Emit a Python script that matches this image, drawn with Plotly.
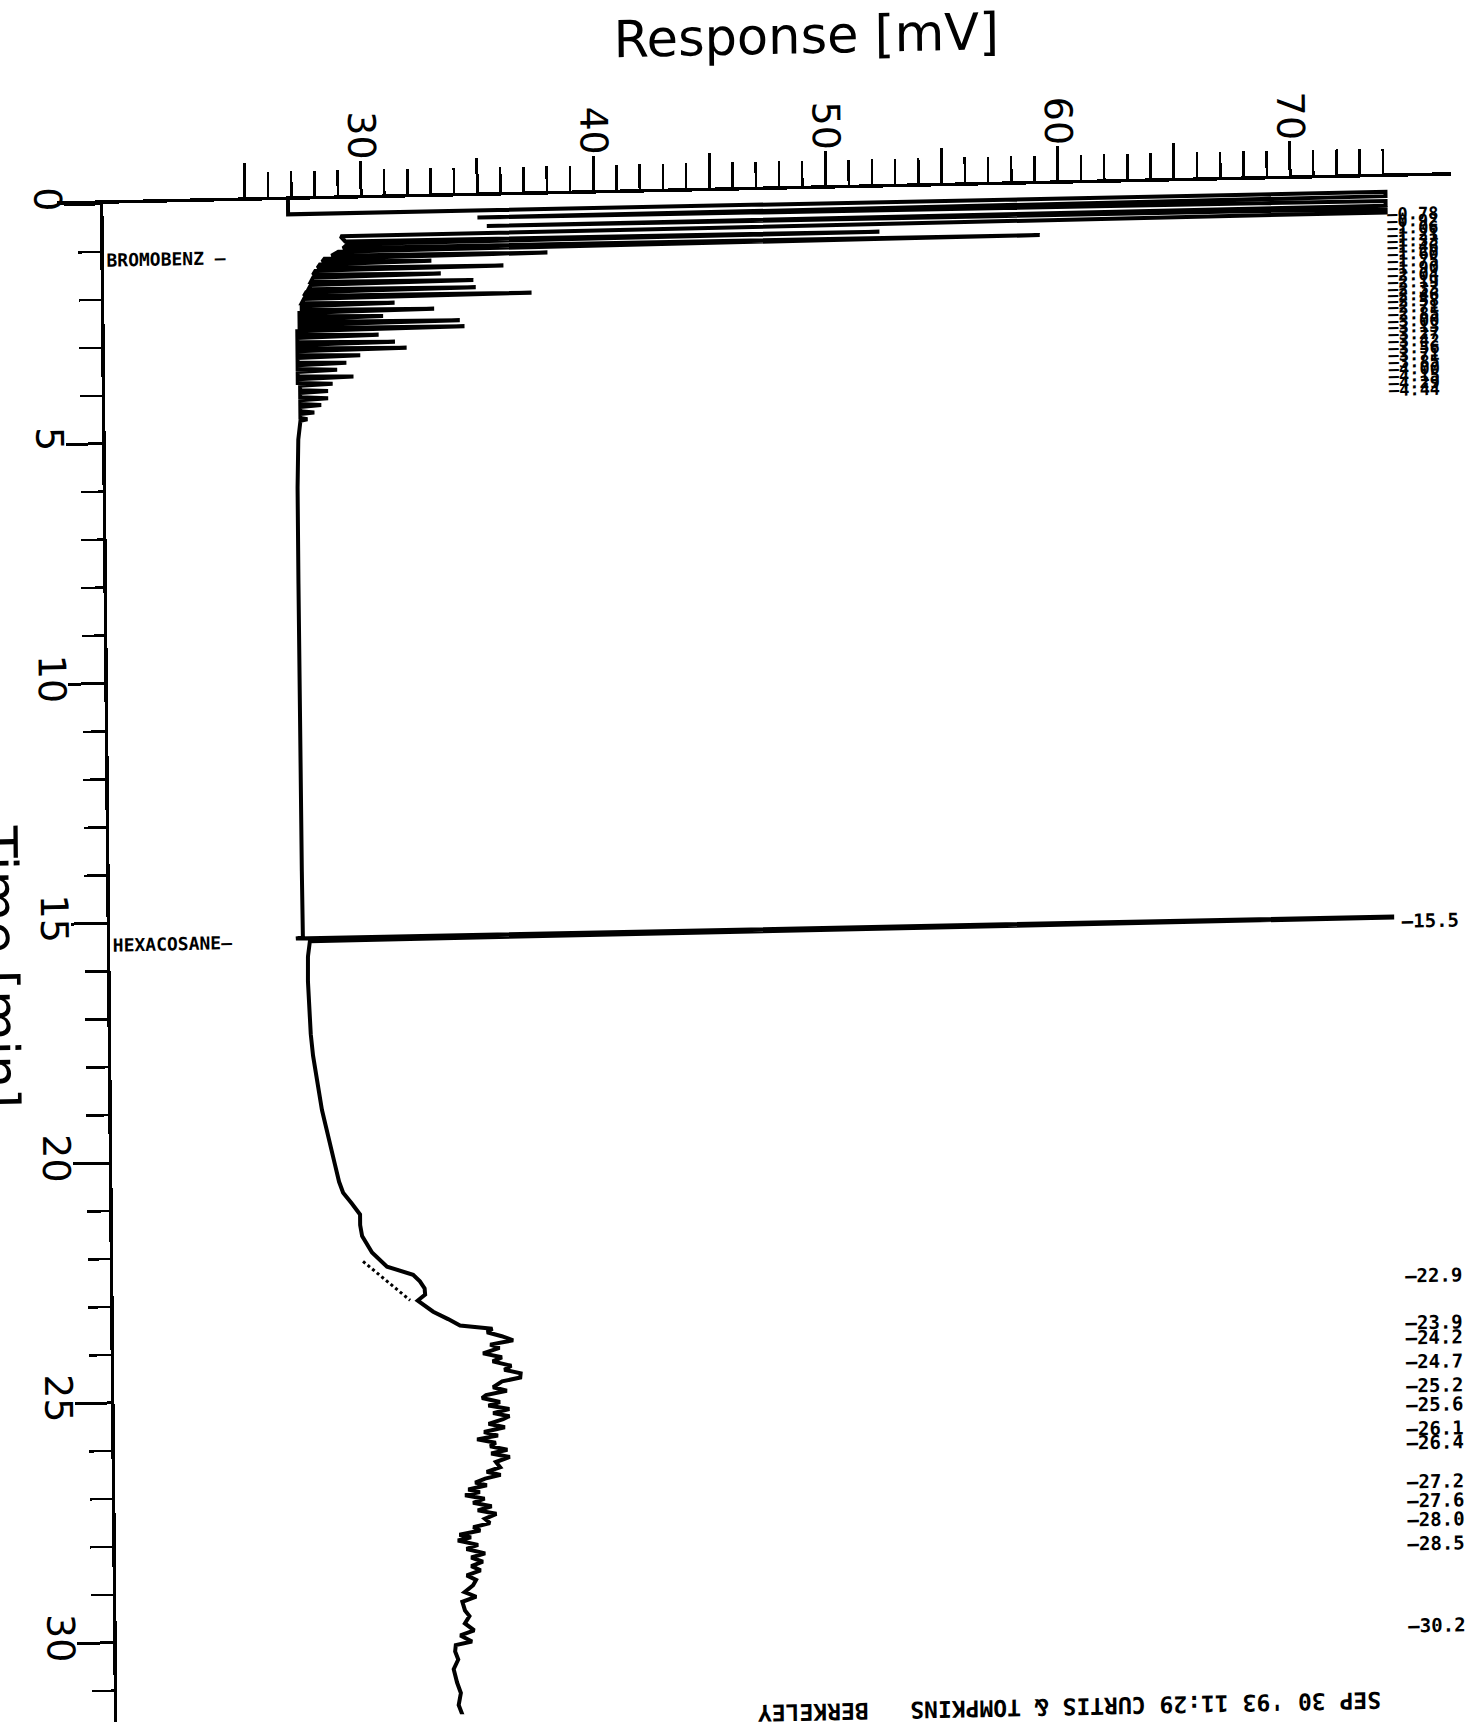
import plotly.graph_objects as go

# ---------------- data ----------------
# time [min] / response [mV] of the recorder trace, in segments
early_time = [0.00, 0.30, 0.31, 0.40, 0.45, 0.50, 0.60, 0.63, 0.66, 0.74, 0.78, 0.89, 0.92, 0.95,
              1.03, 1.06, 1.10, 1.18, 1.21, 1.24, 1.30, 1.33, 1.36, 1.43, 1.46, 1.49,
              1.57, 1.60, 1.63, 1.72, 1.75, 1.78, 1.87, 1.90, 1.93, 2.01, 2.04, 2.07,
              2.16, 2.19, 2.22, 2.30, 2.33, 2.36, 2.43, 2.46, 2.49, 2.55, 2.58, 2.61,
              2.68, 2.71, 2.74, 2.82, 2.85, 2.88, 2.97, 3.00, 3.03, 3.10, 3.13, 3.16,
              3.24, 3.27, 3.30, 3.39, 3.42, 3.45, 3.53, 3.56, 3.59, 3.68, 3.71, 3.74,
              3.82, 3.85, 3.88, 3.97, 4.00, 4.03, 4.12, 4.15, 4.18, 4.26, 4.29, 4.32,
              4.41, 4.44, 4.47, 4.55, 4.58, 4.61]
early_mv = [26.85, 26.85, 74.1, 74.1, 35.0, 74.1, 74.1, 35.4, 74.1, 74.1, 29.1, 29.3, 52.3, 29.4,
            29.2, 59.2, 29.0, 28.7, 38.0, 28.4, 28.3, 33.0, 28.2, 28.1, 36.1, 28.0,
            27.9, 33.4, 27.9, 27.8, 34.8, 27.8, 27.7, 34.9, 27.6, 27.5, 37.3, 27.5,
            27.4, 31.4, 27.4, 27.4, 33.1, 27.3, 27.3, 30.9, 27.3, 27.3, 34.2, 27.3,
            27.3, 34.4, 27.2, 27.2, 30.7, 27.2, 27.2, 31.4, 27.2, 27.2, 31.9, 27.2,
            27.2, 29.9, 27.2, 27.2, 29.3, 27.2, 27.2, 28.9, 27.2, 27.2, 29.6, 27.2,
            27.2, 28.7, 27.3, 27.3, 28.5, 27.3, 27.3, 28.5, 27.3, 27.3, 28.2, 27.3,
            27.3, 27.9, 27.3, 27.3, 27.6, 27.3]

mid_time = [5.0, 6.0, 8.0, 10.0, 12.0, 14.0, 15.38, 15.40, 15.42, 15.44, 15.46, 15.78, 16.30,
            16.93, 17.40, 17.85, 18.20, 18.54, 18.98, 19.30, 19.67, 20.13, 20.49, 20.72, 20.95,
            21.18, 21.40, 21.63, 21.98, 22.28, 22.46, 22.60, 22.75, 22.88, 23.00, 23.24, 23.40]
mid_mv = [27.2, 27.15, 27.15, 27.15, 27.15, 27.18, 27.2, 26.9, 74.1, 74.1, 27.5, 27.41, 27.40,
          27.44, 27.50, 27.59, 27.70, 27.83, 27.95, 28.10, 28.29, 28.49, 28.66, 28.83, 29.20,
          29.55, 29.55, 29.63, 30.05, 30.69, 31.81, 32.10, 32.30, 32.32, 32.00, 32.66, 33.30]

late_time = [23.54, 23.62, 23.69, 23.78, 23.87, 23.95, 24.02, 24.13, 24.22, 24.30,
             24.40, 24.48, 24.56, 24.65, 24.72, 24.84, 24.92, 25.00, 25.06, 25.15,
             25.22, 25.30, 25.38, 25.45, 25.51, 25.60, 25.68, 25.77, 25.85, 25.92,
             26.00, 26.07, 26.15, 26.22, 26.30, 26.40, 26.51, 26.60, 26.67, 26.74,
             26.82, 26.88, 26.96, 27.02, 27.08, 27.16, 27.24, 27.32, 27.40, 27.48,
             27.58, 27.67, 27.75, 27.82, 27.90, 27.96, 28.02, 28.12, 28.20, 28.30,
             28.38, 28.47, 28.56, 28.65, 28.75, 28.85, 28.96, 29.10, 29.20, 29.30,
             29.48, 29.60, 29.75, 29.90, 30.00, 30.13, 30.20, 30.33, 30.50, 30.70,
             30.98, 31.20, 31.45, 31.80]
late_mv = [33.81, 35.2, 34.97, 35.6, 36.09, 35.1, 35.5, 34.79, 35.6, 35.2,
           36.0, 35.7, 36.4, 36.38, 35.6, 35.21, 35.8, 34.9, 34.73, 35.5,
           35.0, 35.9, 35.2, 35.9, 35.63, 35.0, 35.7, 34.8, 35.4, 34.50,
           35.3, 35.06, 35.8, 35.1, 35.9, 35.3, 35.48, 34.9, 35.5, 34.83,
           34.4, 34.9, 34.1, 34.6, 33.96, 34.8, 34.3, 35.1, 34.5, 35.3,
           34.8, 35.02, 34.3, 34.6, 33.7, 34.2, 33.63, 34.5, 34.0, 34.8,
           34.2, 34.70, 34.2, 34.6, 34.0, 34.4, 34.27, 33.9, 34.4, 33.8,
           33.91, 34.1, 33.9, 34.3, 33.7, 34.20, 33.5, 33.47, 33.6, 33.4,
           33.54, 33.7, 33.6, 33.87]

# integrator's dashed baseline under the hump
baseline_time = [22.16, 22.99]
baseline_mv = [29.66, 31.67]

# retention-time labels printed on the right
early_rt = [0.78, 0.92, 1.06, 1.21, 1.33, 1.46, 1.60, 1.75, 1.90, 2.04, 2.19, 2.33, 2.46, 2.58,
            2.71, 2.85, 3.00, 3.13, 3.27, 3.42, 3.56, 3.71, 3.85, 4.00, 4.15, 4.29, 4.44]
late_rt = [15.5, 22.9, 23.9, 24.2, 24.7, 25.2, 25.6, 26.1, 26.4, 27.2, 27.6, 28.0, 28.5, 30.2]

compound_names = ["BROMOBENZ \u2014", "HEXACOSANE\u2014"]
compound_rt = [1.17, 15.45]

mv_ticks = [30, 40, 50, 60, 70]
mv_half_ticks = [25, 35, 45, 55, 65]
mv_minor_ticks = list(range(25, 75))
time_ticks = [0, 5, 10, 15, 20, 25, 30]
time_minor_ticks = list(range(0, 32))

footer = "SEP 30 '93 11:29 CURTIS & TOMPKINS\u00a0\u00a0\u00a0BERKELEY"

# ---------------- page geometry (pixels) ----------------
W, H = 1481, 1724
T0_PX = 206.0          # t = 0 (response axis line)
PX_PER_MIN = 47.97
MV30_PX = 359.2
PX_PER_MV = 23.225
X_LEFT, X_RIGHT = 55.0, 1449.0
TIME_AXIS_PX = 99.0


def mv_at(px):
    return 30 + (px - MV30_PX) / PX_PER_MV


def t_at(px):
    return (px - T0_PX) / PX_PER_MIN


BLACK = "#000000"
PLOT_FONT = "DejaVu Sans"
PRINT_FONT = "DejaVu Sans Mono"

fig = go.Figure()

fig.add_trace(go.Scatter(
    x=early_mv + mid_mv + late_mv,
    y=early_time + mid_time + late_time,
    mode="lines",
    line=dict(color=BLACK, width=4),
    hoverinfo="skip",
    showlegend=False,
    xaxis="x", yaxis="y",
))

fig.add_trace(go.Scatter(
    x=baseline_mv, y=baseline_time,
    mode="lines",
    line=dict(color=BLACK, width=3, dash="dot"),
    hoverinfo="skip",
    showlegend=False,
    xaxis="x2", yaxis="y",
))

annotations = []

# title
annotations.append(dict(
    text="Response [mV]", xref="paper", yref="paper",
    x=806 / W, y=1 - 53 / H, xanchor="center", yanchor="middle",
    showarrow=False, font=dict(family=PLOT_FONT, size=51, color=BLACK),
))
# time axis title (rotated, partly off the page as in the scan)
annotations.append(dict(
    text="Time [min]", xref="paper", yref="paper",
    x=-10 / W, y=1 - 966 / H, xanchor="center", yanchor="middle",
    textangle=90, showarrow=False,
    font=dict(family=PLOT_FONT, size=52, color=BLACK),
))
# compound names
for name, rt in zip(compound_names, compound_rt):
    annotations.append(dict(
        text=name, xref="paper", yref="y", x=102 / W, y=rt,
        xanchor="left", yanchor="middle", showarrow=False,
        font=dict(family=PRINT_FONT, size=18, color=BLACK, weight="bold"),
    ))
# retention time labels
for rt in early_rt:
    annotations.append(dict(
        text="\u2014" + f"{rt:.2f}", xref="paper", yref="y", x=1383 / W, y=rt,
        xanchor="left", yanchor="middle", showarrow=False,
        font=dict(family=PRINT_FONT, size=17, color=BLACK, weight="bold"),
    ))
for rt in late_rt:
    annotations.append(dict(
        text="\u2014" + f"{rt:.1f}", xref="paper", yref="y", x=1391 / W, y=rt,
        xanchor="left", yanchor="middle", showarrow=False,
        font=dict(family=PRINT_FONT, size=19, color=BLACK, weight="bold"),
    ))
# upside-down footer printed by the integrator
annotations.append(dict(
    text=footer, xref="paper", yref="paper",
    x=1054 / W, y=1 - 1729 / H, xanchor="center", yanchor="middle",
    textangle=180, showarrow=False,
    font=dict(family=PRINT_FONT, size=23, color=BLACK, weight="bold"),
))

x_range = [mv_at(X_LEFT), mv_at(X_RIGHT)]
x_domain = [X_LEFT / W, X_RIGHT / W]

fig.update_layout(
    width=W, height=H, autosize=False,
    margin=dict(l=0, r=0, t=0, b=0, pad=0, autoexpand=False),
    paper_bgcolor="white", plot_bgcolor="white",
    showlegend=False,
    annotations=annotations,
    xaxis=dict(
        domain=x_domain, range=x_range, side="top", anchor="y", automargin=False,
        showline=True, linewidth=3.5, linecolor=BLACK, mirror=False,
        showgrid=False, zeroline=False,
        tickmode="array", tickvals=mv_ticks, ticktext=[str(v) for v in mv_ticks],
        ticks="outside", ticklen=34, tickwidth=3, tickcolor=BLACK,
        tickangle=90, ticklabelstandoff=-12,
        tickfont=dict(family=PLOT_FONT, size=38, color=BLACK),
        minor=dict(tickmode="array", tickvals=mv_minor_ticks, ticks="outside",
                   ticklen=25, tickwidth=2.5, tickcolor=BLACK, showgrid=False),
        fixedrange=True,
    ),
    xaxis2=dict(
        domain=x_domain, range=x_range, side="top", anchor="y", overlaying="x",
        automargin=False,
        showline=False, showgrid=False, zeroline=False, showticklabels=False,
        tickmode="array", tickvals=mv_half_ticks,
        ticks="outside", ticklen=37, tickwidth=3, tickcolor=BLACK,
        fixedrange=True,
    ),
    yaxis=dict(
        domain=[0, 1 - T0_PX / H], range=[t_at(H), 0],
        anchor="free", position=TIME_AXIS_PX / W, side="left", automargin=False,
        showline=True, linewidth=3.5, linecolor=BLACK,
        showgrid=False, zeroline=False,
        tickmode="array", tickvals=time_ticks, ticktext=[str(v) for v in time_ticks],
        ticks="outside", ticklen=36, tickwidth=3, tickcolor=BLACK,
        tickangle=90, ticklabelstandoff=-16,
        tickfont=dict(family=PLOT_FONT, size=38, color=BLACK),
        minor=dict(tickmode="array", tickvals=time_minor_ticks, ticks="outside",
                   ticklen=22, tickwidth=2.5, tickcolor=BLACK, showgrid=False),
        fixedrange=True,
    ),
)

# the scanned page is slightly skewed; reproduce that on the page
post_js = """
var gd = document.getElementById('{plot_id}');
document.documentElement.style.margin = '0';
document.documentElement.style.overflow = 'hidden';
document.body.style.margin = '0';
document.body.style.overflow = 'hidden';
gd.style.transformOrigin = '0 0';
gd.style.transform = 'skewY(-1.2deg) skewX(0.53deg)';
var svgs = gd.querySelectorAll('svg');
for (var i = 0; i < svgs.length; i++) { svgs[i].style.overflow = 'visible'; }
"""

fig.write_html("out.html", post_script=post_js, config={"displayModeBar": False, "staticPlot": True})
